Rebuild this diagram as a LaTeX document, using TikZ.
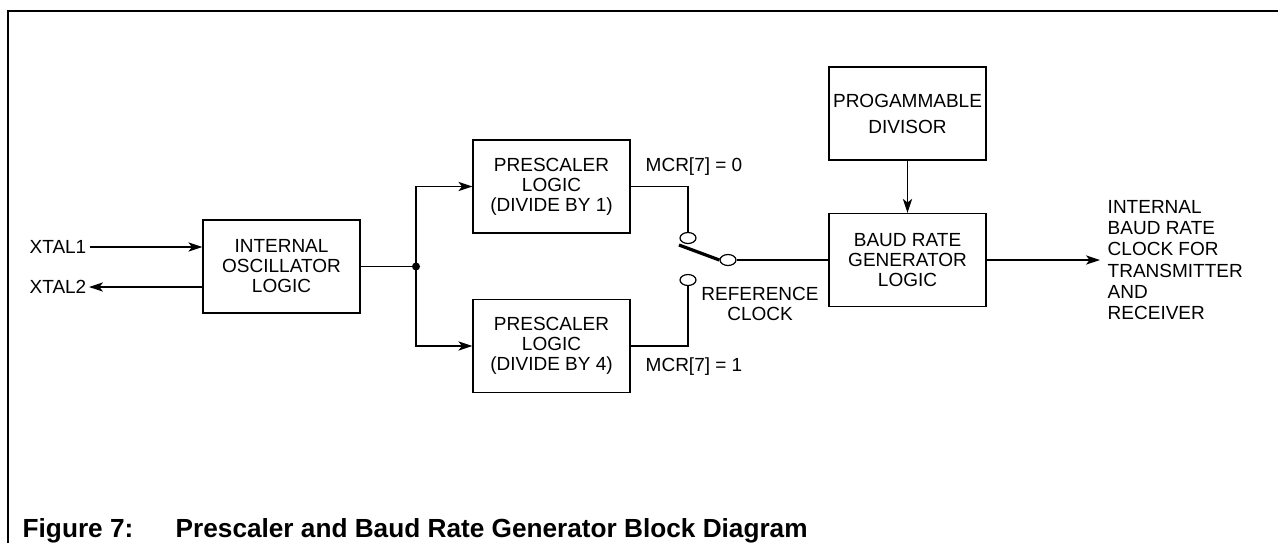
\documentclass[tikz,border=0pt]{standalone}
\usepackage{fontspec}
\setmainfont{Liberation Sans}
\usetikzlibrary{positioning,calc,arrows.meta,shapes.geometric}
\tikzset{>={Stealth[length=7pt,width=4.6pt,inset=1.8pt]}}
\tikzset{blk/.style={draw,line width=.6pt,minimum width=78.5pt,minimum height=46.5pt,align=center,inner sep=0pt},
  txt/.style={inner sep=0pt,align=left},
  sw/.style={draw,ellipse,line width=.6pt,minimum width=8pt,minimum height=5.5pt,inner sep=0pt}}
\newcommand*{\fs}{\fontsize{9.5}{10}\selectfont}

\begin{document}
\begin{tikzpicture}[x=.5pt,y=-.5pt,font=\fs,line width=.7pt]
\useasboundingbox (0,0) rectangle (1278,543);
% frame
\draw[line width=1.3pt] (8,543) -- (8,11) -- (1278,11);
% blocks
\node[blk] (osc) at (281.5,266.5) {INTERNAL\\OSCILLATOR\\LOGIC};
\node[blk] (ps1) at (551.5,186.5) {PRESCALER\\LOGIC\\(DIVIDE BY 1)};
\node[blk] (ps4) at (551.5,346) {PRESCALER\\LOGIC\\(DIVIDE BY 4)};
\node[blk] (div) at (907.5,113.5) {PROGAMMABLE\\[3pt]DIVISOR};
\node[blk] (brg) at (907.5,260) {BAUD RATE\\GENERATOR\\LOGIC};
% crystal pins
\node[txt,anchor=east] (x1) at (87,247) {XTAL1};
\node[txt,anchor=east] (x2) at (87,287) {XTAL2};
\draw[->] ([xshift=1.5pt]x1.east) -- (x1.east -| osc.west);
\draw[->] (x2.east -| osc.west) -- ([xshift=1pt]x2.east);
% split to the prescalers
\coordinate (j) at (416,266.5);
\draw (osc.east) -- (j);
\fill (j) circle[radius=2pt];
\draw[->] (j) |- (ps1.west);
\draw[->] (j) |- (ps4.west);
% switch
\node[sw] (s0) at (688,238) {};
\node[sw] (s1) at (688,280) {};
\node[sw] (sc) at (728,260) {};
\coordinate (arm) at (679,245);
\draw (ps1.east) -| (s0.north);
\draw (ps4.east) -| (s1.south);
\draw[line width=1.6pt] (arm) -- (sc.west);
\draw (sc.east) -- (brg.west);
\node[txt,anchor=west] (m0) at (645,167) {MCR[7] = 0};
\node[txt,anchor=west] (m1) at (645,367) {MCR[7] = 1};
\node[txt,align=center] (rc) at (760,303.5) {REFERENCE\\CLOCK};
% divisor and output
\draw[->] (div.south) -- (brg.north);
\node[txt,anchor=west,font=\fontsize{9.5}{10.6}\selectfont] (out) at (1107,260)
  {INTERNAL\\BAUD RATE\\CLOCK FOR\\TRANSMITTER\\AND\\RECEIVER};
\draw[->,shorten >=3.5pt] (brg.east) -- (out.west);
% caption
\node[txt,anchor=base west,font=\bfseries\fontsize{13.1}{15}\selectfont] (fig) at (22,537) {Figure 7:};
\node[txt,anchor=base west,font=\bfseries\fontsize{13.1}{15}\selectfont] (ttl) at (175,537) {Prescaler and Baud Rate Generator Block Diagram};
\end{tikzpicture}
\end{document}
